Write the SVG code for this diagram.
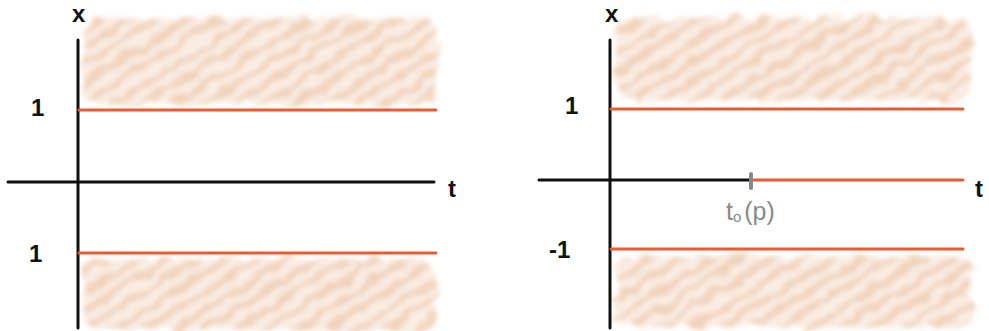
<svg xmlns="http://www.w3.org/2000/svg" width="989" height="331" viewBox="0 0 989 331">
<style>
.axis{stroke:#111;stroke-width:3;stroke-linecap:round;fill:none}
.red{stroke:#ec5a32;stroke-width:3;stroke-linecap:round;fill:none}
.lbl{font-family:"Liberation Sans",sans-serif;font-size:24px;fill:#111;font-weight:bold}
.gray{font-family:"Liberation Sans",sans-serif;font-size:25px;fill:#8a8a8a}
.shade{fill:url(#hatch);opacity:0.42;filter:url(#rough)}
</style>
<defs>
<pattern id="hatch" width="16" height="16" patternUnits="userSpaceOnUse" patternTransform="rotate(58)">
<rect width="16" height="16" fill="#f4d6bf"/>
<rect width="8" height="16" fill="#e0995f"/>
</pattern>
<filter id="rough" x="-5%" y="-10%" width="110%" height="120%">
<feTurbulence type="fractalNoise" baseFrequency="0.05" numOctaves="2" seed="3" result="n"/>
<feDisplacementMap in="SourceGraphic" in2="n" scale="16" xChannelSelector="R" yChannelSelector="G" result="d"/>
<feGaussianBlur in="d" stdDeviation="2.4"/>
</filter>
</defs>
<g id="left-panel">
<g id="left-shade">
<rect class="shade" x="84" y="18" width="354" height="86" rx="16"/>
<rect class="shade" x="84" y="259" width="354" height="70" rx="16"/>
</g>
<g id="left-axes">
<line class="axis" x1="78" y1="40" x2="78" y2="328"/>
<line class="axis" x1="8" y1="182" x2="434" y2="182"/>
</g>
<g id="left-bounds">
<line class="red" x1="79" y1="110" x2="436" y2="110"/>
<line class="red" x1="79" y1="253" x2="436" y2="253"/>
</g>
<g id="left-labels">
<text class="lbl" x="72" y="22">x</text>
<text class="lbl" x="448" y="197">t</text>
<text class="lbl" x="31" y="116">1</text>
<text class="lbl" x="29" y="262">1</text>
</g>
</g>
<g id="right-panel">
<g id="right-shade">
<rect class="shade" x="616" y="18" width="356" height="82" rx="16"/>
<rect class="shade" x="616" y="256" width="356" height="72" rx="16"/>
</g>
<g id="right-axes">
<line class="axis" x1="610" y1="40" x2="610" y2="328"/>
<line class="axis" x1="539" y1="180" x2="750" y2="180"/>
</g>
<g id="right-bounds">
<line class="red" x1="611" y1="109" x2="963" y2="109"/>
<line class="red" x1="611" y1="249" x2="963" y2="249"/>
<line class="red" x1="752" y1="180" x2="963" y2="180"/>
</g>
<g id="t0-tick">
<line x1="751" y1="174" x2="751" y2="188" stroke="#888" stroke-width="4" stroke-linecap="round"/>
<text class="gray" x="726" y="220">t<tspan font-size="15" dy="2">o</tspan><tspan dy="-2" dx="3">(p)</tspan></text>
</g>
<g id="right-labels">
<text class="lbl" x="605" y="22">x</text>
<text class="lbl" x="975" y="197">t</text>
<text class="lbl" x="565" y="114">1</text>
<text class="lbl" x="549" y="258">-1</text>
</g>
</g>
</svg>
